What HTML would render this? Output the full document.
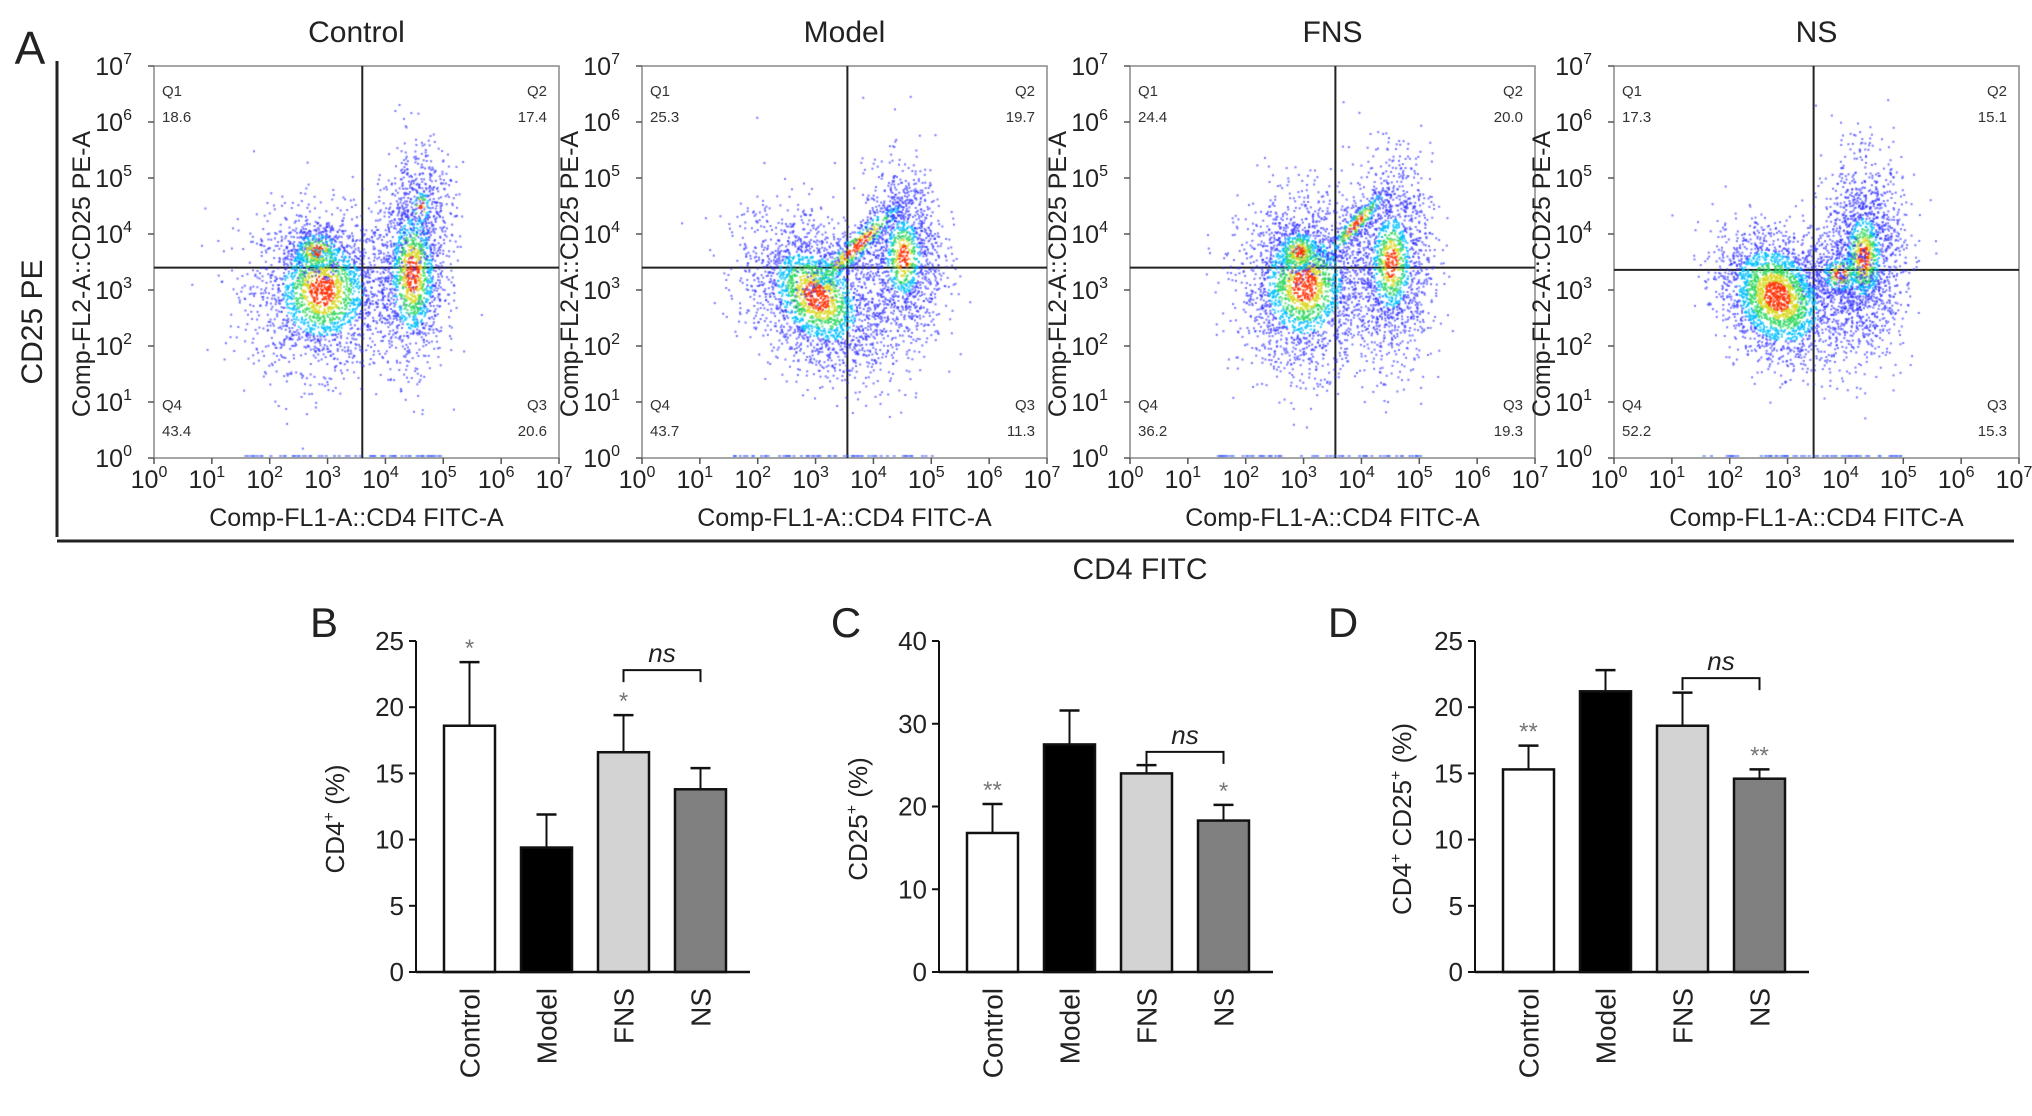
<!DOCTYPE html>
<html><head><meta charset="utf-8">
<style>
html,body{margin:0;padding:0;background:#fff;}
#wrap{position:relative;width:2032px;height:1116px;overflow:hidden;font-family:"Liberation Sans",sans-serif;}
svg{position:absolute;left:0;top:0;}
canvas{position:absolute;}
</style></head>
<body>
<div id="wrap">
<svg id="s" width="2032" height="1116"></svg>
</div>
<script>
// ===== Panel A data =====
const flowTitles = ["Control","Model","FNS","NS"];
const flowQ1 = ["18.6","25.3","24.4","17.3"];
const flowQ2 = ["17.4","19.7","20.0","15.1"];
const flowQ3 = ["20.6","11.3","19.3","15.3"];
const flowQ4 = ["43.4","43.7","36.2","52.2"];
const gateX = [3.6,3.55,3.55,3.45];
const gateY = [3.4,3.4,3.4,3.36];
// clusters: [logX, logY, sdX, sdY, count, heat(0-1), rotation]
const clustersControl = [[2.9,3.0,0.6,0.7,2200,0.3,0],[4.45,3.3,0.28,0.8,1300,0.35,0],[2.8,3.7,0.25,0.2,300,0.5,0],[4.6,4.5,0.3,0.6,400,0.05,0]];
const clustersModel = [[3.0,2.9,0.5,0.75,2200,0.3,0.6],[3.7,3.8,0.12,0.7,500,0.5,-0.8],[4.5,3.6,0.35,0.8,1300,0.15,0]];
const clustersFNS = [[3.0,3.1,0.55,0.75,2200,0.3,0],[2.9,3.7,0.2,0.2,300,0.6,0],[4.5,3.5,0.35,0.9,1500,0.18,0],[3.9,4.2,0.1,0.5,300,0.4,-0.7]];
const clustersNS = [[2.8,2.9,0.45,0.6,2300,0.45,0.5],[4.3,3.6,0.35,0.85,1700,0.15,0],[3.9,3.3,0.3,0.3,400,0.2,0]];
const flowClusters = [clustersControl,clustersModel,clustersFNS,clustersNS];
const flowLeft = [154,642,1130,1614];
// ===== Bar data =====
const categories = ["Control","Model","FNS","NS"];
const cd4Vals = [18.6,9.4,16.6,13.8];
const cd4Errs = [4.8,2.5,2.8,1.6];
const cd4Stars = ["*","","*",""];
const cd25Vals = [16.8,27.5,24.0,18.3];
const cd25Errs = [3.5,4.1,1.0,1.9];
const cd25Stars = ["**","","","*"];
const dpVals = [15.3,21.2,18.6,14.6];
const dpErrs = [1.8,1.6,2.5,0.7];
const dpStars = ["**","","","**"];
const cd4Ticks = [0,5,10,15,20,25];
const cd25Ticks = [0,10,20,30,40];
const dpTicks = [0,5,10,15,20,25];
const barFills = ["#ffffff","#000000","#d3d3d3","#808080"];

const NS="http://www.w3.org/2000/svg";
const svg=document.getElementById('s');
function el(tag,attrs,parent){const e=document.createElementNS(NS,tag);for(const k in attrs)e.setAttribute(k,attrs[k]);(parent||svg).appendChild(e);return e;}
function txt(x,y,s,size,opts,parent){opts=opts||{};const t=el('text',{x:x,y:y,'font-size':size,'text-anchor':opts.anchor||'middle','font-family':'"Liberation Sans",sans-serif',fill:opts.fill||'#222'},parent);if(opts.rot)t.setAttribute('transform','rotate('+opts.rot+' '+x+' '+y+')');if(opts.italic)t.setAttribute('font-style','italic');t.textContent=s;return t;}

let seed=12345;function rnd(){seed=(seed*1103515245+12345)%2147483648;return seed/2147483648;}
function gauss(){let u=rnd()||1e-6,v=rnd();return Math.sqrt(-2*Math.log(u))*Math.cos(2*Math.PI*v);}

const frameL=el('line',{x1:57,y1:61,x2:57,y2:537,stroke:'#222','stroke-width':3});

const frameB=el('line',{x1:57,y1:541,x2:2014,y2:541,stroke:'#222','stroke-width':3});

let t=txt(30,64,'A',46,{anchor:'middle'});
t=txt(1140,579,'CD4 FITC',30);
t=txt(42,322,'CD25 PE',30,{rot:-90});

const PT=66,PB=458,PW=405,PH=392;
const decX=PW/7,decY=PH/7;
const heatCols=['#3030ff','#00c0ff','#30d860','#d8d820','#ff3000'];
flowTitles.forEach((title,i)=>{
  const L=flowLeft[i];
  const g=el('g',{});
  
  
  const tt=txt(L+PW/2,42,title,30,{},g);
  
  const c=document.createElement('canvas');c.width=PW;c.height=PH;c.style.left=L+'px';c.style.top=PT+'px';
  
  document.getElementById('wrap').appendChild(c);
  const ctx=c.getContext('2d');
  const sx=v=>v*decX, sy=v=>PH-v*decY;
  flowClusters[i].forEach(cl=>{
    const [cx,cy,sdx,sdy,n,heat,rot]=cl;
    const cr=Math.cos(rot),sr=Math.sin(rot);
    for(let k=0;k<n;k++){
      const a=gauss(),b=gauss();
      const dx=a*sdx,dy=b*sdy;
      const x=cx+dx*cr-dy*sr,y=cy+dx*sr+dy*cr;
      const r2=(a*a+b*b);
      let lvl=0;
      const h=heat*4;
      if(r2<0.12*h)lvl=4;else if(r2<0.3*h)lvl=3;else if(r2<0.6*h)lvl=2;else if(r2<1.1*h)lvl=1;
      ctx.fillStyle=heatCols[lvl];
      ctx.globalAlpha=lvl?0.8:0.65;
      ctx.fillRect(sx(x),sy(y),2,2);
    }
  });
  ctx.globalAlpha=0.6;ctx.fillStyle='#4060ff';
  for(let k=0;k<60;k++){ctx.fillRect(sx(1.5+rnd()*3.5),PH-3,3,2);}
  const fr=el('rect',{x:L,y:PT,width:PW,height:PH,fill:'none',stroke:'#888','stroke-width':1.5},g);
  
  const gx=L+gateX[i]*decX, gy=PB-gateY[i]*decY;
  const vl=el('line',{x1:gx,y1:PT,x2:gx,y2:PB,stroke:'#222','stroke-width':2},g);
  
  const hl=el('line',{x1:L,y1:gy,x2:L+PW,y2:gy,stroke:'#222','stroke-width':2},g);
  
  [[L+8,96,'Q1','start'],[L+8,122,flowQ1[i],'start'],[L+PW-12,96,'Q2','end'],[L+PW-12,122,flowQ2[i],'end'],
   [L+8,410,'Q4','start'],[L+8,436,flowQ4[i],'start'],[L+PW-12,410,'Q3','end'],[L+PW-12,436,flowQ3[i],'end']].forEach(q=>{
    const qt=txt(q[0],q[1],q[2],15,{anchor:q[3],fill:'#333'},g);
    
  });
  for(let d=0;d<=7;d++){
    const yy=PB-d*decY;
    el('line',{x1:L-6,y1:yy,x2:L,y2:yy,stroke:'#555','stroke-width':1.5},g);
    const yt=el('text',{x:L-22,y:yy+9,'font-size':25,'text-anchor':'end','font-family':'"Liberation Sans",sans-serif',fill:'#222'},g);
    
    yt.innerHTML='10<tspan font-size="16" dy="-11">'+d+'</tspan>';
    const xx=L+d*decX;
    el('line',{x1:xx,y1:PB,x2:xx,y2:PB+6,stroke:'#555','stroke-width':1.5},g);
    const xt=el('text',{x:xx-5,y:488,'font-size':25,'text-anchor':'middle','font-family':'"Liberation Sans",sans-serif',fill:'#222'},g);
    
    xt.innerHTML='10<tspan font-size="16" dy="-11">'+d+'</tspan>';
  }
  const xtit=txt(L+PW/2,526,'Comp-FL1-A::CD4 FITC-A',25,{},g);
  
  const ytit=txt(L-64,274,'Comp-FL2-A::CD25 PE-A',25,{rot:-90},g);
  
});

function barChart(opt){
  const g=el('g',{});
  
  const Y0=972,Y1=641,ax=opt.ax,max=opt.ticks[opt.ticks.length-1];
  const sy=v=>Y0-(v/max)*(Y0-Y1);
  const bx=i=>ax+28+i*77;
  const bw=51;
  const lt=txt(opt.letterX,637,opt.letter,42,{},g);
  
  const yax=el('line',{x1:ax,y1:Y1,x2:ax,y2:Y0,stroke:'#111','stroke-width':2},g);
  
  opt.ticks.forEach(v=>{
    el('line',{x1:ax-7,y1:sy(v),x2:ax,y2:sy(v),stroke:'#111','stroke-width':2},g);
    const tl=txt(ax-12,sy(v)+9,String(v),26,{anchor:'end'},g);
    
  });
  opt.vals.forEach((v,i)=>{
    const x=bx(i),cx=x+bw/2,top=sy(v),et=sy(v+opt.errs[i]);
    const eb=el('line',{x1:cx,y1:top,x2:cx,y2:et,stroke:'#111','stroke-width':2},g);
    
    el('line',{x1:cx-10,y1:et,x2:cx+10,y2:et,stroke:'#111','stroke-width':2.5},g);
    const r=el('rect',{x:x,y:top,width:bw,height:Y0-top,fill:barFills[i],stroke:'#111','stroke-width':2.5},g);
    
    if(opt.stars[i]){const st=txt(cx,et-6,opt.stars[i],24,{fill:'#777'},g);}
    const cl=txt(cx+10,Y0+16,categories[i],28,{anchor:'end',rot:-90},g);
    
  });
  const xax=el('line',{x1:ax,y1:Y0,x2:ax+334,y2:Y0,stroke:'#111','stroke-width':2.5},g);
  
  const c2=bx(2)+bw/2,c3=bx(3)+bw/2,by=sy(opt.ns);
  const br=el('path',{d:'M'+c2+' '+(by+12)+' V'+by+' H'+c3+' V'+(by+12),fill:'none',stroke:'#111','stroke-width':2},g);
  
  const nt=txt((c2+c3)/2,by-8,'ns',26,{italic:true},g);
  
  const yl=el('text',{x:opt.labelX,y:819,'font-size':26,'text-anchor':'middle','font-family':'"Liberation Sans",sans-serif',fill:'#222',transform:'rotate(-90 '+opt.labelX+' 819)'},g);
  
  yl.innerHTML=opt.label;
}
barChart({name:'chart-b-cd4',ax:416,letter:'B',letterX:324,ticks:cd4Ticks,vals:cd4Vals,errs:cd4Errs,stars:cd4Stars,ns:22.8,labelX:344,label:'CD4<tspan font-size="16" dy="-10">+</tspan><tspan dy="10"> (%)</tspan>'});
barChart({name:'chart-c-cd25',ax:939,letter:'C',letterX:846,ticks:cd25Ticks,vals:cd25Vals,errs:cd25Errs,stars:cd25Stars,ns:26.6,labelX:867,label:'CD25<tspan font-size="16" dy="-10">+</tspan><tspan dy="10">  (%)</tspan>'});
barChart({name:'chart-d-cd4cd25',ax:1475,letter:'D',letterX:1343,ticks:dpTicks,vals:dpVals,errs:dpErrs,stars:dpStars,ns:22.2,labelX:1411,label:'CD4<tspan font-size="16" dy="-10">+</tspan><tspan dy="10"> CD25</tspan><tspan font-size="16" dy="-10">+</tspan><tspan dy="10"> (%)</tspan>'});
</script>
</body></html>
